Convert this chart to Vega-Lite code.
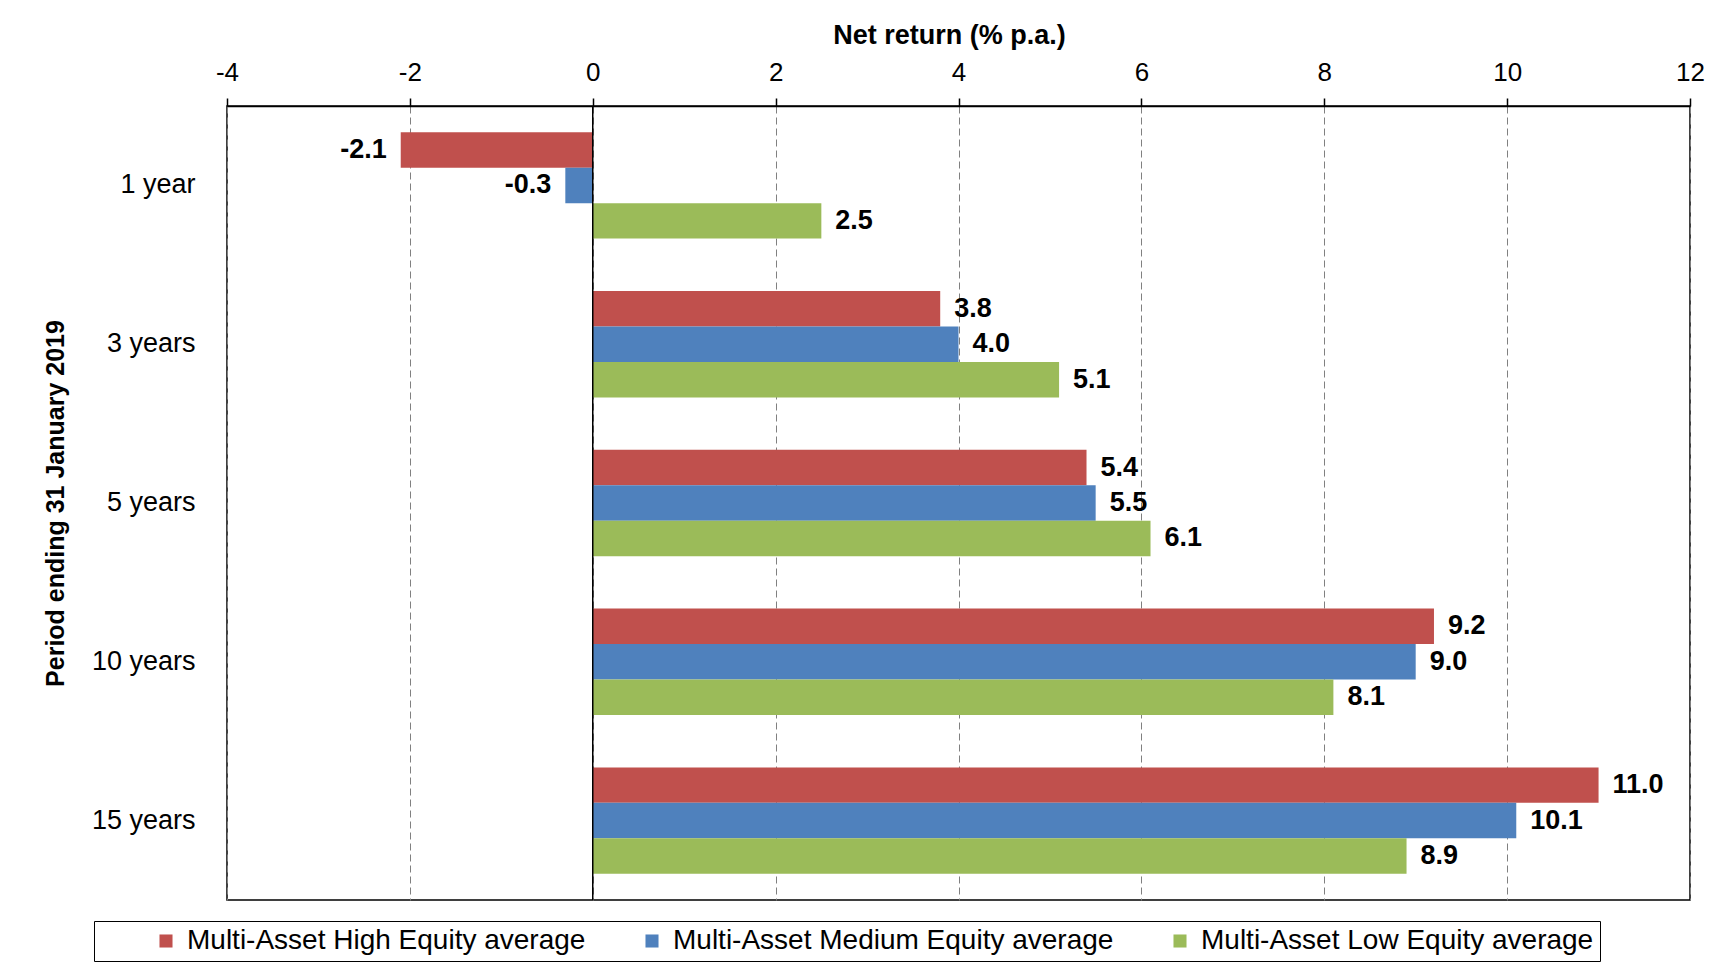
{
  "$schema": "https://vega.github.io/schema/vega-lite/v6.json",
  "width": 1463,
  "height": 794,
  "autosize": {"type": "none"},
  "padding": {"left": 227, "top": 106, "right": 45, "bottom": 68},
  "background": "white",
  "config": {
    "font": "Liberation Sans",
    "view": {"stroke": "black", "strokeWidth": 1.5}
  },
  "data": {
    "values": [
      {"period": "1 year", "series": "Multi-Asset High Equity average", "value": -2.1},
      {"period": "1 year", "series": "Multi-Asset Medium Equity average", "value": -0.3},
      {"period": "1 year", "series": "Multi-Asset Low Equity average", "value": 2.5},
      {"period": "3 years", "series": "Multi-Asset High Equity average", "value": 3.8},
      {"period": "3 years", "series": "Multi-Asset Medium Equity average", "value": 4.0},
      {"period": "3 years", "series": "Multi-Asset Low Equity average", "value": 5.1},
      {"period": "5 years", "series": "Multi-Asset High Equity average", "value": 5.4},
      {"period": "5 years", "series": "Multi-Asset Medium Equity average", "value": 5.5},
      {"period": "5 years", "series": "Multi-Asset Low Equity average", "value": 6.1},
      {"period": "10 years", "series": "Multi-Asset High Equity average", "value": 9.2},
      {"period": "10 years", "series": "Multi-Asset Medium Equity average", "value": 9.0},
      {"period": "10 years", "series": "Multi-Asset Low Equity average", "value": 8.1},
      {"period": "15 years", "series": "Multi-Asset High Equity average", "value": 11.0},
      {"period": "15 years", "series": "Multi-Asset Medium Equity average", "value": 10.1},
      {"period": "15 years", "series": "Multi-Asset Low Equity average", "value": 8.9}
    ]
  },
  "layer": [
    {
      "mark": {"type": "bar"},
      "encoding": {
        "y": {
          "field": "period", "type": "nominal",
          "sort": ["1 year", "3 years", "5 years", "10 years", "15 years"],
          "scale": {"paddingInner": 0.33, "paddingOuter": 0.165},
          "axis": {
            "orient": "left", "domain": false, "ticks": false, "grid": false,
            "labelFontSize": 27, "labelColor": "black", "labelPadding": 32,
            "title": "Period ending 31 January 2019", "titleFontSize": 25,
            "titleFontWeight": "bold", "titleColor": "black",
            "titleX": -172, "titleY": 397, "titleBaseline": "middle", "titleAngle": -90
          }
        },
        "yOffset": {
          "field": "series", "type": "nominal",
          "sort": ["Multi-Asset High Equity average", "Multi-Asset Medium Equity average", "Multi-Asset Low Equity average"],
          "scale": {"paddingInner": 0, "paddingOuter": 0}
        },
        "x": {
          "field": "value", "type": "quantitative",
          "scale": {"domain": [-4, 12], "nice": false, "zero": false},
          "axis": {
            "orient": "top", "values": [-4, -2, 0, 2, 4, 6, 8, 10, 12],
            "labelExpr": "'' + datum.value", "labelFlush": false, "labelOverlap": false, "labelBound": false,
            "domain": true, "domainColor": "black", "domainWidth": 1.5,
            "ticks": true, "tickColor": "black", "tickSize": 8, "tickWidth": 1.5,
            "labelFontSize": 26, "labelColor": "black", "labelPadding": 13,
            "grid": true, "gridDash": [7, 4], "gridColor": "#808080", "gridWidth": 1,
            "title": "Net return (% p.a.)", "titleFontSize": 27, "titleFontWeight": "bold",
            "titleColor": "black", "titleY": -71, "titleX": 722, "titleAlign": "center", "titleBaseline": "middle"
          }
        },
        "color": {
          "field": "series", "type": "nominal",
          "scale": {
            "domain": ["Multi-Asset High Equity average", "Multi-Asset Medium Equity average", "Multi-Asset Low Equity average"],
            "range": ["#C0504D", "#4F81BD", "#9BBB59"]
          },
          "legend": {
            "orient": "none", "legendX": -133, "legendY": 815,
            "direction": "horizontal", "title": " ", "titleOrient": "left", "titlePadding": 52, "titleFontSize": 27,
            "symbolType": "square", "symbolSize": 170, "symbolStrokeWidth": 0,
            "labelFontSize": 28, "labelColor": "black", "labelOffset": 7, "labelLimit": 600,
            "columnPadding": 52, "strokeColor": "black", "padding": 6
          }
        }
      }
    },
    {
      "data": {"values": [{"value": 0}]},
      "mark": {"type": "rule", "color": "black", "strokeWidth": 1.5},
      "encoding": {
        "x": {"field": "value", "type": "quantitative"}
      }
    },
    {
      "transform": [{"filter": "datum.value >= 0"}],
      "mark": {"type": "text", "align": "left", "baseline": "middle", "dx": 14, "fontSize": 27, "fontWeight": "bold", "color": "black",
               "text": {"expr": "format(datum.value, '.1f')"}},
      "encoding": {
        "y": {"field": "period", "type": "nominal", "sort": ["1 year", "3 years", "5 years", "10 years", "15 years"]},
        "yOffset": {"field": "series", "type": "nominal", "sort": ["Multi-Asset High Equity average", "Multi-Asset Medium Equity average", "Multi-Asset Low Equity average"]},
        "x": {"field": "value", "type": "quantitative"}
      }
    },
    {
      "transform": [{"filter": "datum.value < 0"}],
      "mark": {"type": "text", "align": "right", "baseline": "middle", "dx": -14, "fontSize": 27, "fontWeight": "bold", "color": "black",
               "text": {"expr": "'-' + format(-datum.value, '.1f')"}},
      "encoding": {
        "y": {"field": "period", "type": "nominal", "sort": ["1 year", "3 years", "5 years", "10 years", "15 years"]},
        "yOffset": {"field": "series", "type": "nominal", "sort": ["Multi-Asset High Equity average", "Multi-Asset Medium Equity average", "Multi-Asset Low Equity average"]},
        "x": {"field": "value", "type": "quantitative"}
      }
    }
  ]
}
